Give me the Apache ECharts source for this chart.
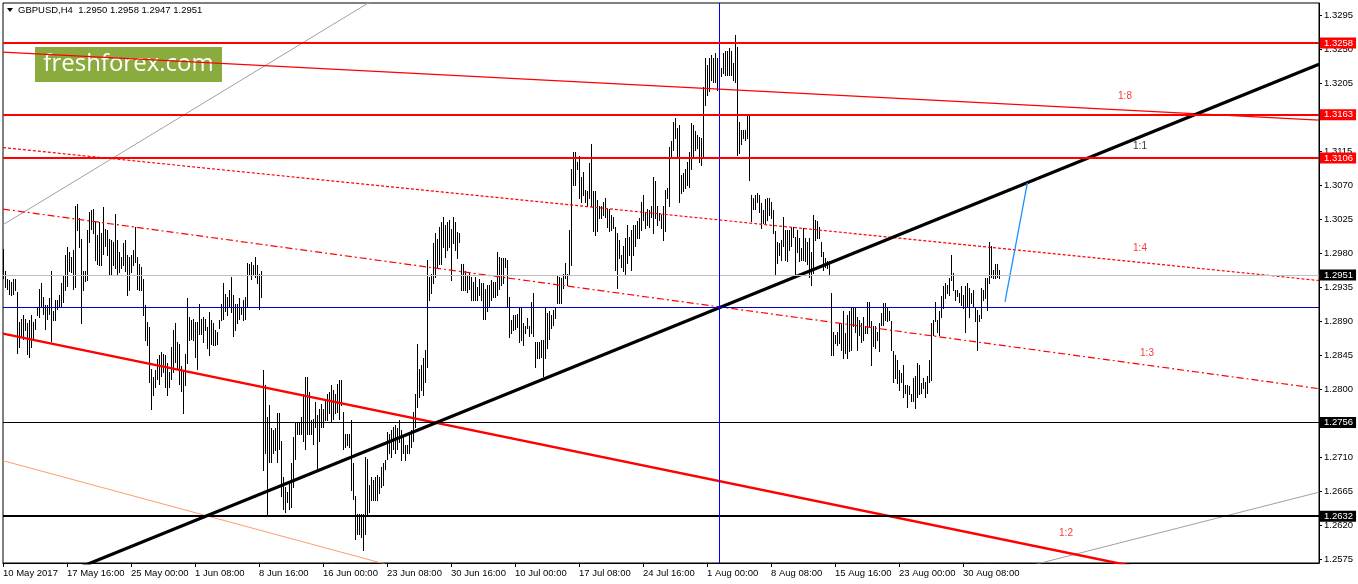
<!DOCTYPE html>
<html>
<head>
<meta charset="utf-8">
<title>GBPUSD H4</title>
<script src="https://cdn.jsdelivr.net/npm/echarts@6/dist/echarts.min.js"></script>
<style>
  html, body { margin: 0; padding: 0; background: #fff; }
  #chart { width: 1358px; height: 584px; }
</style>
</head>
<body>
<div id="chart"></div>
<script>
// H4 bars, high / low in 1/10000 (12986 = 1.2986)
const highs = [
  12986,12957,12946,12944,12942,12946,12946,12929,12889,12893,
  12898,12893,12887,12891,12898,12889,12893,12909,12933,12940,
  12922,12911,12911,12920,12956,12904,12918,12918,12924,12940,
  12951,12977,12988,12981,12975,12984,13043,13045,13026,12999,
  12957,12957,13010,13034,13037,13039,13023,13004,13021,13006,
  13041,13012,13010,12999,12997,12995,13032,12997,12981,12975,
  12993,12997,12977,12975,12977,12984,13015,12975,12966,12962,
  12946,12911,12889,12882,12827,12816,12825,12840,12845,12849,
  12847,12845,12834,12823,12856,12878,12887,12862,12860,12831,
  12825,12847,12920,12895,12891,12893,12889,12889,12913,12893,
  12895,12893,12882,12902,12891,12887,12878,12876,12891,12913,
  12940,12926,12922,12931,12948,12924,12913,12913,12920,12909,
  12918,12922,12967,12966,12968,12964,12975,12964,12953,12957,
  12825,12805,12763,12779,12748,12746,12748,12768,12768,12732,
  12684,12671,12664,12675,12702,12737,12755,12757,12757,12763,
  12794,12816,12816,12796,12759,12761,12783,12766,12774,12781,
  12774,12785,12794,12796,12805,12799,12794,12807,12812,12812,
  12770,12741,12741,12741,12759,12702,12658,12635,12635,12635,
  12635,12710,12708,12673,12684,12680,12684,12686,12684,12697,
  12702,12706,12744,12741,12746,12750,12752,12748,12759,12746,
  12739,12726,12726,12741,12746,12770,12794,12860,12827,12832,
  12841,12852,12971,12949,12953,12993,13006,12999,13015,13021,
  13028,13017,13021,13024,13012,13028,13021,13008,13006,12966,
  12966,12957,12951,12955,12949,12942,12949,12935,12946,12940,
  12940,12933,12938,12938,12944,12942,12942,12982,12975,12973,
  12973,12973,12971,12922,12891,12898,12898,12900,12909,
  12907,12887,12883,12894,12883,12916,12927,12863,12863,12863,
  12865,12865,12907,12901,12903,12898,12905,12909,12951,12949,
  12947,12953,12967,12953,13011,13092,13114,13114,13101,13108,
  13081,13088,13064,13062,13099,13125,13062,13062,13050,13042,
  13042,13048,13053,13039,13039,13031,13028,13015,13006,12998,
  12978,12989,13000,13017,13002,13011,13017,13017,13022,13026,
  13048,13057,13035,13039,13037,13042,13081,13075,13042,13033,
  13031,13042,13064,13066,13121,13128,13154,13159,13145,13150,
  13084,13086,13092,13101,13114,13152,13150,13141,13136,13134,
  13132,13200,13238,13229,13238,13242,13238,13245,13238,13225,
  13225,13245,13247,13247,13251,13247,13231,13269,13253,13154,
  13143,13143,13143,13163,13161,13057,13053,13057,13059,13057,
  13046,13037,13051,13053,13053,13048,13037,13009,12995,12993,
  12998,13028,13011,13011,13011,13015,13015,13002,13011,13000,
  12987,13013,13000,12995,13000,12982,13031,13024,13022,13015,
  12995,12982,12973,12969,12969,12927,12876,12872,12876,12887,
  12887,12903,12874,12898,12903,12909,12909,12909,12896,12892,
  12887,12896,12883,12916,12916,12890,12883,12883,12876,12887,
  12901,12914,12914,12907,12903,12890,12850,12845,12839,12826,
  12821,12832,12806,12806,12804,12793,12815,12817,12834,12832,
  12808,12815,12810,12817,12839,12887,12892,12916,12892,12903,
  12923,12936,12940,12938,12947,12978,12954,12931,12931,12927,
  12936,12925,12936,12940,12934,12927,12931,12909,12905,12898,
  12934,12931,12947,12947,12995,12989,12958,12965,12965,12958
];
const lows = [
  12947,12935,12933,12926,12924,12926,12931,12848,12856,12871,
  12867,12878,12847,12843,12856,12867,12880,12898,12895,12909,
  12900,12880,12893,12900,12864,12892,12891,12906,12909,12909,
  12915,12931,12937,12957,12955,12933,12935,13011,12988,12887,
  12931,12943,12944,12995,13012,13006,12971,12966,12964,12964,
  12979,12990,12977,12951,12953,12964,12960,12953,12955,12960,
  12964,12957,12924,12931,12955,12964,12968,12933,12931,12931,
  12898,12865,12858,12809,12774,12792,12803,12814,12807,12818,
  12823,12803,12792,12803,12814,12823,12836,12827,12807,12798,
  12768,12805,12834,12865,12867,12865,12843,12827,12873,12873,
  12862,12878,12854,12845,12860,12858,12858,12860,12881,12891,
  12893,12904,12898,12909,12902,12871,12878,12887,12893,12900,
  12891,12893,12909,12953,12946,12951,12948,12940,12906,12922,
  12693,12715,12633,12704,12704,12715,12719,12704,12721,12658,
  12642,12638,12651,12642,12644,12671,12708,12741,12741,12741,
  12732,12721,12741,12741,12741,12728,12750,12693,12732,12750,
  12750,12759,12759,12768,12757,12761,12768,12770,12761,12779,
  12721,12724,12726,12724,12666,12655,12602,12609,12609,12605,
  12587,12609,12633,12638,12653,12653,12653,12653,12662,12671,
  12673,12695,12708,12715,12710,12721,12715,12721,12730,12706,
  12715,12706,12715,12715,12724,12732,12750,12777,12790,12799,
  12792,12810,12830,12918,12927,12940,12949,12962,12966,12966,
  12988,12975,12984,12988,12944,12993,12984,12973,12995,12931,
  12931,12931,12929,12933,12918,12918,12918,12918,12924,12918,
  12893,12893,12904,12909,12918,12922,12922,12924,12933,12938,
  12940,12962,12909,12869,12874,12878,12880,12882,12863,
  12865,12859,12874,12881,12870,12874,12870,12830,12841,12841,
  12843,12817,12841,12854,12867,12881,12885,12894,12914,12914,
  12914,12934,12947,12938,12953,12964,13070,13070,13092,13053,
  13048,13057,13048,13042,13053,13042,13009,13004,13009,13026,
  13026,13031,13028,13015,13009,13011,13013,12958,12934,12973,
  12962,12956,12953,12967,12978,12958,12978,12989,13000,13000,
  13011,13024,13013,13017,13015,13028,13006,13026,13017,13024,
  13013,12998,13009,13053,13042,13108,13117,13132,13106,13048,
  13059,13062,13066,13070,13068,13092,13108,13117,13119,13101,
  13097,13106,13176,13189,13194,13209,13207,13207,13196,13203,
  13214,13218,13216,13216,13216,13216,13209,13207,13110,13112,
  13125,13132,13130,13132,13077,13022,13039,13039,13048,13035,
  13013,13020,13020,13024,13031,13026,13006,12951,12967,12978,
  12971,12989,12971,12969,12984,12989,13002,12951,12982,12969,
  12971,12971,12969,12965,12949,12938,12954,12998,13000,13000,
  12976,12958,12962,12960,12951,12845,12845,12861,12859,12861,
  12852,12841,12848,12841,12850,12852,12883,12876,12852,12872,
  12863,12865,12874,12874,12883,12832,12857,12854,12865,12850,
  12885,12885,12892,12890,12892,12852,12810,12815,12808,12799,
  12810,12790,12795,12777,12793,12784,12784,12775,12790,12793,
  12795,12801,12790,12795,12810,12812,12872,12890,12876,12872,
  12896,12907,12920,12927,12925,12945,12931,12918,12923,12916,
  12912,12907,12876,12909,12896,12914,12909,12890,12852,12890,
  12894,12918,12920,12905,12940,12949,12947,12947,12949,12947
];

// time axis: one label every 32 bars
const labelBars = [0, 32, 64, 96, 128, 160, 192, 224, 256, 288, 320, 352, 384, 416, 448, 480];
const timeLabels = ['10 May 2017', '17 May 16:00', '25 May 00:00', '1 Jun 08:00', '8 Jun 16:00',
  '16 Jun 00:00', '23 Jun 08:00', '30 Jun 16:00', '10 Jul 00:00', '17 Jul 08:00', '24 Jul 16:00',
  '1 Aug 00:00', '8 Aug 08:00', '15 Aug 16:00', '23 Aug 00:00', '30 Aug 08:00'];
const priceTicks = [1.2575, 1.2620, 1.2665, 1.2710, 1.2755, 1.2800, 1.2845, 1.2890, 1.2935,
  1.2980, 1.3025, 1.3070, 1.3115, 1.3160, 1.3205, 1.3250, 1.3295];

// horizontal levels
const redLevels = [1.3258, 1.3163, 1.3106];
const lastPrice = 1.2951;
const blueLevel = 1.2909;
const blackLevel = 1.2756;
const supportLevel = 1.2632;
const markerBar = 358;

// trend lines, [bar, price] end points
const trendBlack = [[0, 1.2523], [658, 1.3230]];
const trendRed = [[0, 1.28735], [658, 1.2515]];
const fan18 = [[0, 1.3246], [658, 1.3156]];
const fan14 = [[0, 1.31196], [658, 1.29438]];
const fan13 = [[0, 1.30383], [658, 1.28007]];
const salmonLine = [[0, 1.27054], [198.5, 1.25633]];
const grayUpper = [[0, 1.30176], [200, 1.33389]];
const grayLower = [[498.5, 1.25563], [658, 1.26637]];
const blueRay = [[501, 1.29156], [512.2, 1.30731]];

const ratioNames = ['1:8', '1:1', '1:4', '1:3', '1:2'];
const ratioBars = [561, 568.5, 568.5, 572, 531.5];
const ratioPrices = [1.3188, 1.3122, 1.2987, 1.2848, 1.2609];

const FONT = 'Liberation Sans';
const bars = highs.map((h, i) => [i, h / 10000, lows[i] / 10000]);

const chart = echarts.init(document.getElementById('chart'));

function trend(data, color, width, type, z) {
  return {
    type: 'line', data: data, showSymbol: false, silent: true, clip: true,
    z: z || 4, animation: false,
    lineStyle: { color: color, width: width, type: type || 'solid' }
  };
}

function level(value, color, width, boxColor) {
  const item = { yAxis: value, lineStyle: { color: color, width: width, type: 'solid' } };
  if (boxColor) {
    item.label = {
      show: true, position: 'end', distance: 1, formatter: value.toFixed(4),
      color: '#fff', backgroundColor: boxColor, padding: [1, 3, 0, 4],
      fontFamily: FONT, fontSize: 9.5, lineHeight: 10
    };
  } else {
    item.label = { show: false };
  }
  return item;
}

const option = {
  animation: false,
  backgroundColor: '#fff',
  grid: { left: 3, right: 39, top: 3, bottom: 21, show: true, borderColor: '#000', borderWidth: 1 },
  xAxis: {
    type: 'value', min: 0, max: 658,
    splitLine: { show: false },
    axisLine: { onZero: false, lineStyle: { color: '#000' } },
    axisTick: { customValues: labelBars, length: 4, lineStyle: { color: '#000' } },
    axisLabel: {
      customValues: labelBars, align: 'left', margin: 5, color: '#000',
      fontFamily: FONT, fontSize: 9.5,
      formatter: (v) => timeLabels[labelBars.indexOf(v)]
    }
  },
  yAxis: {
    type: 'value', position: 'right', min: 1.2570, max: 1.3311, scale: true,
    splitLine: { show: false },
    axisLine: { show: true, onZero: false, lineStyle: { color: '#000' } },
    axisTick: { customValues: priceTicks, length: 3, lineStyle: { color: '#000' } },
    axisLabel: {
      customValues: priceTicks, margin: 5, color: '#000',
      fontFamily: FONT, fontSize: 9.5,
      formatter: (v) => v.toFixed(4)
    }
  },
  series: [
    {
      type: 'custom', data: bars, z: 2, silent: true,
      encode: { x: 0, y: [1, 2] },
      renderItem: (params, api) => {
        const top = api.coord([api.value(0), api.value(1)]);
        const bot = api.coord([api.value(0), api.value(2)]);
        const x = Math.round(top[0]) + 0.5;
        return {
          type: 'line',
          shape: { x1: x, y1: Math.round(top[1]), x2: x, y2: Math.round(bot[1]) + 1 },
          style: { stroke: '#000', lineWidth: 1 }
        };
      }
    },
    {
      type: 'line', data: [], z: 3, silent: true,
      markLine: {
        silent: true, symbol: 'none', animation: false, precision: 4,
        data: [
          level(lastPrice, '#c0c0c0', 1, '#000'),
          level(blueLevel, '#0000c8', 1),
          level(blackLevel, '#000', 1, '#000'),
          level(supportLevel, '#000', 2, '#000'),
          { xAxis: markerBar, lineStyle: { color: '#0000ff', width: 1, type: 'solid' }, label: { show: false } }
        ]
      }
    },
    trend(grayUpper, '#a0a0a0', 1),
    trend(grayLower, '#a0a0a0', 1),
    trend(salmonLine, '#ff9a72', 1),
    trend(fan18, '#ff0000', 1.2),
    trend(fan14, '#ff0000', 1.2, [3, 2]),
    trend(fan13, '#ff0000', 1.2, [7, 3, 2, 3]),
    trend(trendRed, '#ff0000', 2.5),
    trend(trendBlack, '#000', 3.2),
    trend(blueRay, '#1e90ff', 1.3),
    {
      type: 'line', data: [], z: 5, silent: true,
      markLine: {
        silent: true, symbol: 'none', animation: false, precision: 4,
        data: redLevels.map((v) => level(v, '#ff0000', 2, '#ff0000'))
      }
    },
    {
      type: 'scatter', symbolSize: 0, z: 6, silent: true,
      data: ratioNames.map((n, i) => ({ name: n, value: [ratioBars[i], ratioPrices[i]] })),
      label: {
        show: true, position: 'inside', fontFamily: FONT, fontSize: 10,
        formatter: (p) => p.name,
        color: '#ff0000'
      },
      itemStyle: { color: 'transparent' }
    }
  ],
  graphic: [
    {
      type: 'polygon', shape: { points: [[7, 8], [13, 8], [10, 12]] },
      style: { fill: '#000' }
    },
    {
      type: 'text', left: 18, top: 5,
      style: { text: 'GBPUSD,H4  1.2950 1.2958 1.2947 1.2951', fill: '#000', font: '9.5px "Liberation Sans"' }
    },
    {
      type: 'group', left: 35, top: 47,
      children: [
        { type: 'rect', shape: { x: 0, y: 0, width: 187, height: 35 }, style: { fill: '#8aab3e' } },
        {
          type: 'text', x: 93.5, y: 17.5,
          style: {
            text: 'freshforex.com', fill: '#fff', font: '24px "Open Sans"',
            align: 'center', verticalAlign: 'middle'
          }
        }
      ]
    }
  ]
};

// the 1:1 label sits on the black line and is drawn black
option.series[option.series.length - 1].data[1].label = { color: '#000' };

chart.setOption(option);
</script>
</body>
</html>
